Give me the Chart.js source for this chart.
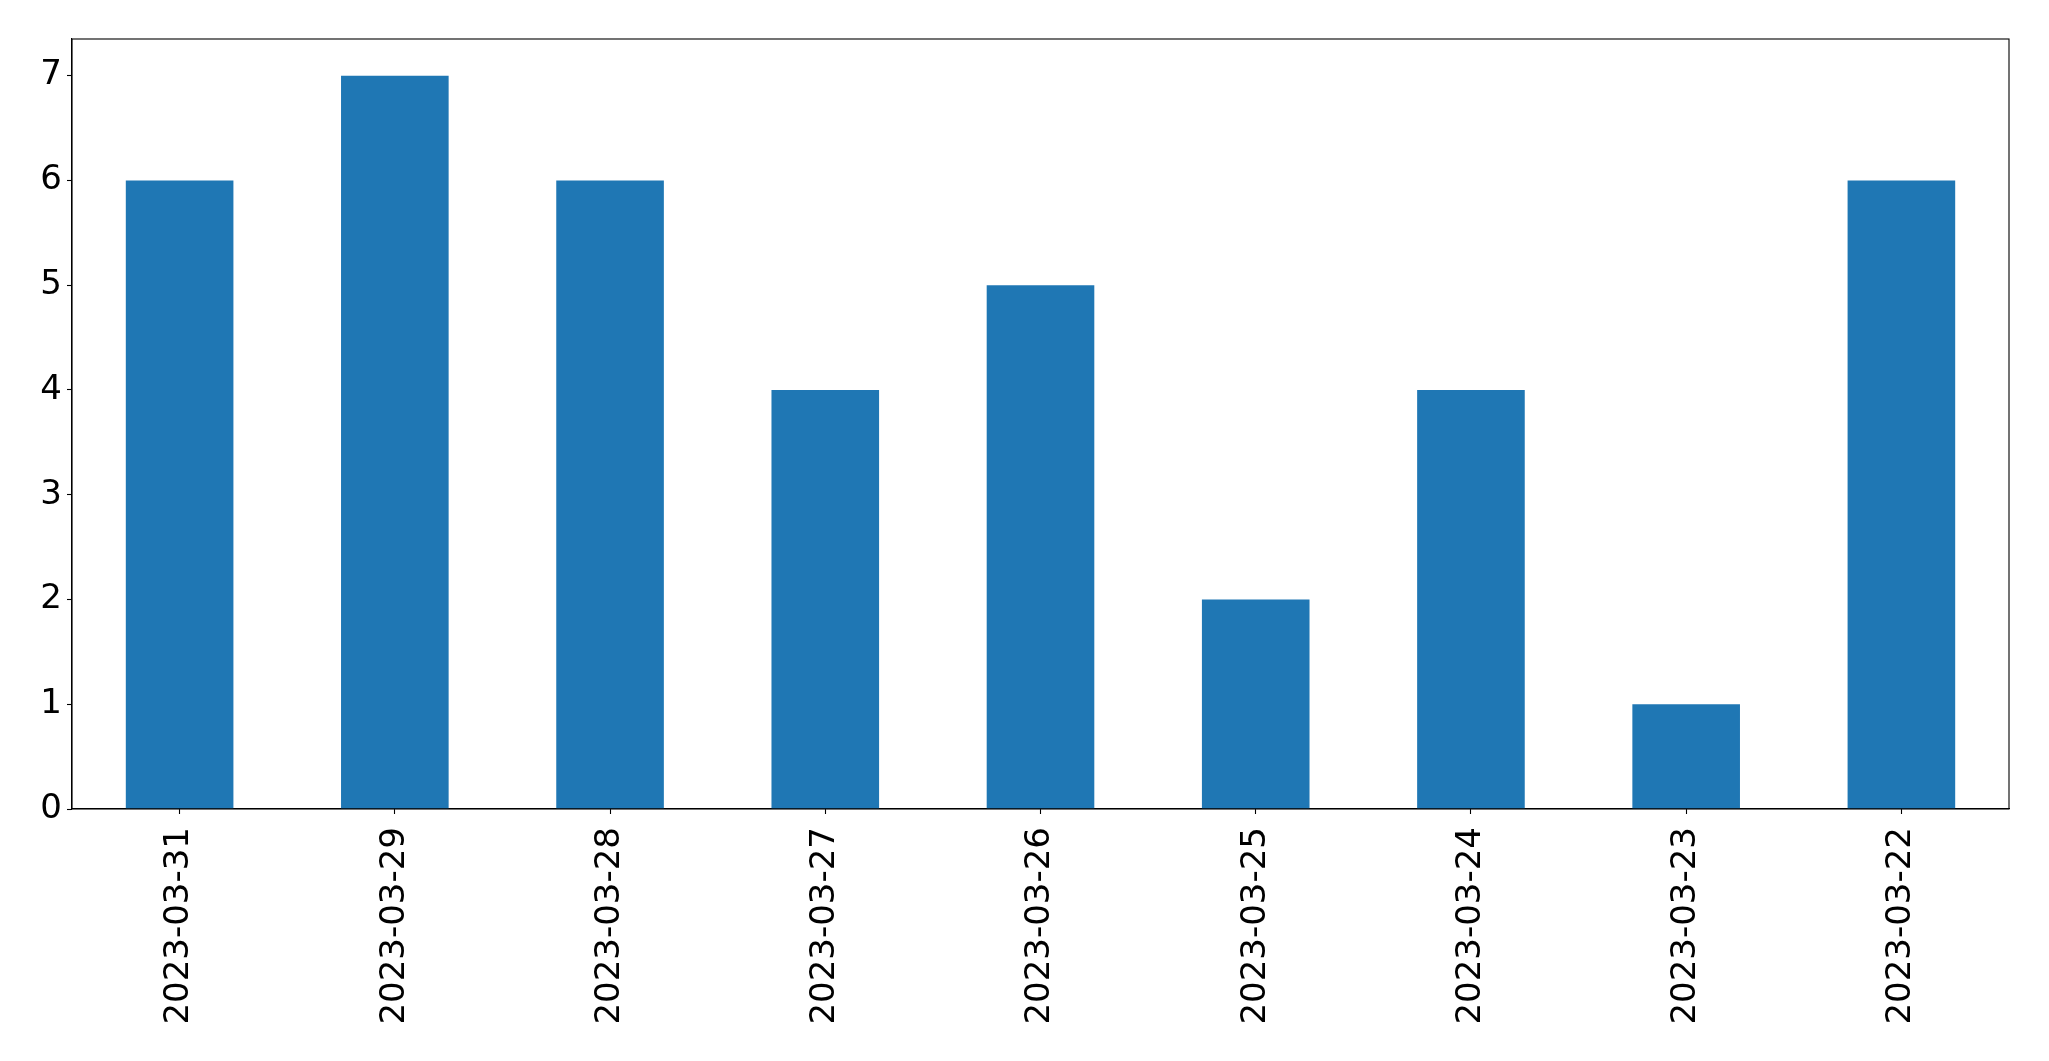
<!DOCTYPE html>
<html>
<head>
<meta charset="utf-8">
<script src="https://cdn.jsdelivr.net/npm/chart.js@4/dist/chart.umd.min.js"></script>
<style>
html,body{margin:0;padding:0;background:#fff;}
canvas{display:block;}
</style>
</head>
<body>
<canvas id="c" width="2049" height="1061"></canvas>
<script>
const categories = ["2023-03-31","2023-03-29","2023-03-28","2023-03-27","2023-03-26","2023-03-25","2023-03-24","2023-03-23","2023-03-22"];
const counts = [6,7,6,4,5,2,4,1,6];
const yTicks = [0,1,2,3,4,5,6,7];

const FONT = {family: "'DejaVu Sans'", size: 34};

const framePlugin = {
  id: 'frame',
  afterDraw(chart) {
    const {ctx, chartArea: a} = chart;
    ctx.save();
    ctx.strokeStyle = '#000';
    ctx.lineWidth = 1.1;
    ctx.strokeRect(a.left, a.top, a.right - a.left, a.bottom - a.top);
    ctx.restore();
  }
};

new Chart(document.getElementById('c'), {
  type: 'bar',
  data: {
    labels: categories,
    datasets: [{
      data: counts,
      backgroundColor: '#1f77b4',
      borderColor: 'rgba(0,0,0,0)',
      borderWidth: 0,
      categoryPercentage: 1.0,
      barPercentage: 0.5
    }]
  },
  options: {
    responsive: false,
    animation: false,
    layout: {padding: {top: 39, right: 40, left: 0, bottom: 0}},
    plugins: {legend: {display: false}, tooltip: {enabled: false}},
    scales: {
      x: {
        grid: {display: true, offset: false, drawOnChartArea: false, drawTicks: true, tickLength: 5, color: '#000', tickWidth: 1.1},
        border: {display: true, color: '#000', width: 1.1},
        ticks: {color: '#000', font: FONT, minRotation: 90, maxRotation: 90, padding: 13, autoSkip: false},
        afterFit(scale) { scale.height = 252; }
      },
      y: {
        min: 0,
        max: 7.35,
        grid: {display: true, drawOnChartArea: false, drawTicks: true, tickLength: 5, color: '#000', tickWidth: 1.1},
        border: {display: true, color: '#000', width: 1.1},
        ticks: {color: '#000', font: FONT, padding: 5},
        afterBuildTicks(scale) { scale.ticks = yTicks.map(v => ({value: v})); },
        afterFit(scale) { scale.width = 72; }
      }
    }
  },
  plugins: [framePlugin]
});
</script>
</body>
</html>
